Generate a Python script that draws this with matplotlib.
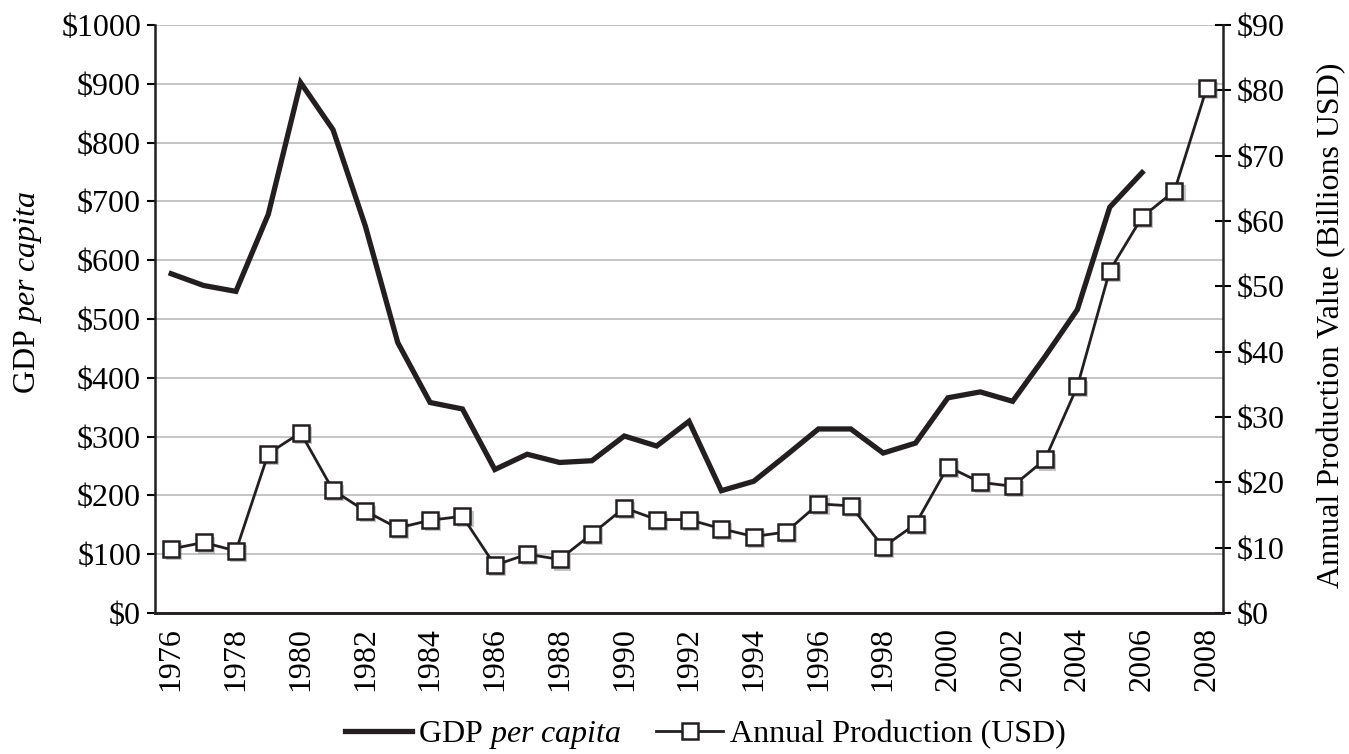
import numpy as np
import matplotlib
matplotlib.use('Agg')
import matplotlib.pyplot as plt
from matplotlib import patheffects as pe
from matplotlib.ticker import FuncFormatter, MultipleLocator

# Serif font to match the Times-like look
plt.rcParams['font.family'] = ['Liberation Serif', 'DejaVu Serif']
plt.rcParams['mathtext.fontset'] = 'custom'
plt.rcParams['mathtext.rm'] = 'Liberation Serif'
plt.rcParams['mathtext.it'] = 'Liberation Serif:italic'

# Data
gdp_years = list(range(1976, 2007))
gdp_per_capita = [577, 557, 547, 678, 902, 822, 658, 460, 358, 347,
                  244, 270, 256, 259, 301, 284, 326, 208, 224, 268,
                  313, 313, 272, 289, 366, 376, 360, 436, 516, 690,
                  749]

prod_years = list(range(1976, 2009))
annual_production = [9.8, 10.8, 9.5, 24.4, 27.6, 18.8, 15.6, 13.0, 14.2, 14.8,
                     7.3, 9.0, 8.2, 12.1, 16.1, 14.3, 14.3, 12.9, 11.7, 12.4,
                     16.7, 16.4, 10.1, 13.6, 22.4, 20.0, 19.4, 23.5, 34.7, 52.4,
                     60.6, 64.6, 80.4]

xtick_years = list(range(1976, 2009, 2))

fig = plt.figure(figsize=(13.49, 7.54), dpi=100)
ax = fig.add_axes([155 / 1349, 1 - 613 / 754, (1223 - 155) / 1349, (613 - 25) / 754])
ax2 = ax.twinx()

fs = 23
ink = '#231f20'

# Left axis: GDP per capita
line_gdp, = ax.plot(gdp_years, gdp_per_capita, color=ink, lw=3.8,
                    solid_joinstyle='miter', zorder=3, label='GDP $\\it{per\\ capita}$')
ax.set_ylim(0, 1000)
ax.set_xlim(1975.5, 2008.5)
ax.yaxis.set_major_locator(MultipleLocator(100))
ax.yaxis.set_major_formatter(FuncFormatter(lambda v, p: '$%d' % v))
ax.grid(axis='y', color='#c0c0c0', lw=1.3)
ax.set_axisbelow(True)
ax.set_xticks(xtick_years)
ax.set_xticklabels([str(y) for y in xtick_years], rotation=90)
ax.tick_params(axis='x', length=0, pad=10, labelsize=fs)
ax.tick_params(axis='y', direction='out', length=6, width=1.5, labelsize=fs, pad=4)
ax.set_ylabel('GDP $\\it{per\\ capita}$', fontsize=fs)
ax.yaxis.set_label_coords(-0.104, 0.546)

# Right axis: annual production (drop shadow under the square markers)
ax2.plot(prod_years, annual_production, ls='none', marker='s', markersize=12,
         zorder=3.9, path_effects=[pe.SimplePatchShadow(offset=(2, -2),
                                                        shadow_rgbFace='#808080',
                                                        alpha=0.45)])
line_prod, = ax2.plot(prod_years, annual_production, color=ink, lw=2.0,
                      marker='s', markersize=12, markerfacecolor='white',
                      markeredgecolor=ink, markeredgewidth=1.8,
                      zorder=4, label='Annual Production (USD)')
ax2.set_ylim(0, 90)
ax2.yaxis.set_major_locator(MultipleLocator(10))
ax2.yaxis.set_major_formatter(FuncFormatter(lambda v, p: '$%d' % v))
ax2.tick_params(axis='y', direction='inout', length=12, width=1.5, labelsize=fs, pad=4)
ax2.set_ylabel('Annual Production Value (Billions USD)', fontsize=fs)
ax2.yaxis.set_label_coords(1.088, 0.49)

for a in (ax, ax2):
    a.spines['top'].set_visible(False)
    for s in ('left', 'right', 'bottom'):
        a.spines[s].set_linewidth(1.8)
        a.spines[s].set_color(ink)
ax2.spines['left'].set_visible(False)
ax.spines['right'].set_visible(False)

fig.legend(handles=[line_gdp, line_prod], loc='center',
           bbox_to_anchor=(705 / 1349, 1 - 735 / 754), ncol=2, frameon=False,
           fontsize=fs, handlelength=2.1, handletextpad=0.2, columnspacing=1.1)

fig.savefig('out.png', dpi=100)
